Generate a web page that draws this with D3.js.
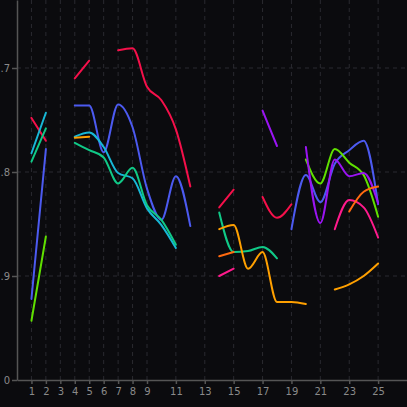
<!DOCTYPE html>
<html>
<head>
<meta charset="utf-8">
<script src="https://cdn.jsdelivr.net/npm/d3@7"></script>
<style>
  html, body { margin: 0; padding: 0; background: #0b0b0e; }
  svg { display: block; }
</style>
</head>
<body>
<svg id="chart" width="407" height="407"></svg>
<script>
// x positions 1..25
const xs = d3.range(1, 26);
const xTicks = [1, 2, 3, 4, 5, 6, 7, 8, 9, 11, 13, 15, 17, 19, 21, 23, 25];
const yTicks = [0.7, 0.8, 0.9, 1.0];
const yTickLabels = [".7", ".8", ".9", "0"];

const N = null;
const red      = [0.748,0.770,N,0.710,0.693,N,0.683,0.681,0.718,0.731,0.759,0.814,N,0.834,0.817,N,0.824,0.844,0.831,N,N,N,N,N,N];
const blue     = [0.922,0.778,N,0.736,0.736,0.781,0.735,0.757,0.816,0.846,0.804,0.852,N,N,N,N,N,N,0.855,0.803,0.829,0.792,0.779,0.770,0.831];
const cyan     = [0.782,0.743,N,0.766,0.762,0.776,0.801,0.806,0.835,0.851,0.873,N,N,N,N,N,N,N,N,N,N,N,N,N,N];
const green    = [0.790,0.758,N,0.772,0.779,0.786,0.811,0.796,0.832,0.846,0.870,N,N,0.839,0.877,0.876,0.872,0.883,N,N,N,N,N,N,N];
const lime     = [0.943,0.862,N,N,N,N,N,N,N,N,N,N,N,N,N,N,N,N,N,0.788,0.811,0.778,0.791,0.803,0.843];
const amber    = [N,N,N,0.767,0.766,N,N,N,N,N,N,N,N,0.855,0.851,0.893,0.877,0.925,0.925,0.927,N,0.913,0.908,0.900,0.888];
const purple   = [N,N,N,N,N,N,N,N,N,N,N,N,N,N,N,N,0.741,0.775,N,0.776,0.849,0.788,0.804,0.801,0.830];
const magenta  = [N,N,N,N,N,N,N,N,N,N,N,N,N,0.900,0.893,N,N,N,N,N,N,0.855,0.827,0.834,0.863];
const orangeRed= [N,N,N,N,N,N,N,N,N,N,N,N,N,0.881,0.877,N,N,N,N,N,N,N,0.838,0.819,0.814];

const seriesValues = [red, blue, cyan, green, lime, amber, purple, magenta, orangeRed];
const seriesColors = ["#f5104a", "#4c5af0", "#17b8d6", "#10c987", "#60e000", "#ffa000", "#9a14f2", "#ff1a8c", "#ff6a10"];

const W = 407, H = 407;
const margin = { left: 17, top: 0, right: 0, bottom: 27 };
const svg = d3.select("#chart");

const x = d3.scaleLinear().domain([0, 27]).range([margin.left, W - margin.right]);
const y = d3.scaleLinear().domain([0.7 - 68 / 1040, 1.0]).range([margin.top, H - margin.bottom]);

// grid
const grid = svg.append("g");
grid.selectAll("line.v").data(xTicks).enter().append("line")
  .attr("x1", d => x(d)).attr("x2", d => x(d))
  .attr("y1", y.range()[0]).attr("y2", y.range()[1])
  .attr("stroke", "#2a2a30").attr("stroke-width", 1).attr("stroke-dasharray", "4,4");
grid.selectAll("line.h").data(yTicks.slice(0, 3)).enter().append("line")
  .attr("x1", x.range()[0]).attr("x2", x.range()[1])
  .attr("y1", d => y(d)).attr("y2", d => y(d))
  .attr("stroke", "#2a2a30").attr("stroke-width", 1).attr("stroke-dasharray", "4,4");

// axes
const xAxis = d3.axisBottom(x).tickValues(xTicks).tickSize(4).tickPadding(4).tickSizeOuter(0).tickFormat(d3.format("d"));
const yAxis = d3.axisLeft(y).tickValues(yTicks).tickSize(5).tickPadding(2).tickSizeOuter(0)
  .tickFormat((d, i) => yTickLabels[i]);

const gx = svg.append("g").attr("transform", `translate(0,${H - margin.bottom})`).call(xAxis);
const gy = svg.append("g").attr("transform", `translate(${margin.left},0)`).call(yAxis);
[gx, gy].forEach(g => {
  g.select(".domain").attr("stroke", "#555").attr("stroke-width", 1.5);
  g.selectAll(".tick line").attr("stroke", "#555").attr("stroke-width", 1.5);
  g.selectAll(".tick text").attr("fill", "#8a8a8a").attr("font-size", 10)
    .attr("font-family", "DejaVu Sans, sans-serif");
});

// lines
const line = d3.line()
  .defined(d => d.v != null)
  .x(d => x(d.x))
  .y(d => y(d.v))
  .curve(d3.curveMonotoneX);

seriesValues.forEach((vals, i) => {
  const pts = xs.map((xv, j) => ({ x: xv, v: vals[j] }));
  svg.append("path")
    .datum(pts)
    .attr("fill", "none")
    .attr("stroke", seriesColors[i])
    .attr("stroke-width", 2)
    .attr("stroke-linejoin", "round")
    .attr("stroke-linecap", "round")
    .attr("d", line);
});
</script>
</body>
</html>
